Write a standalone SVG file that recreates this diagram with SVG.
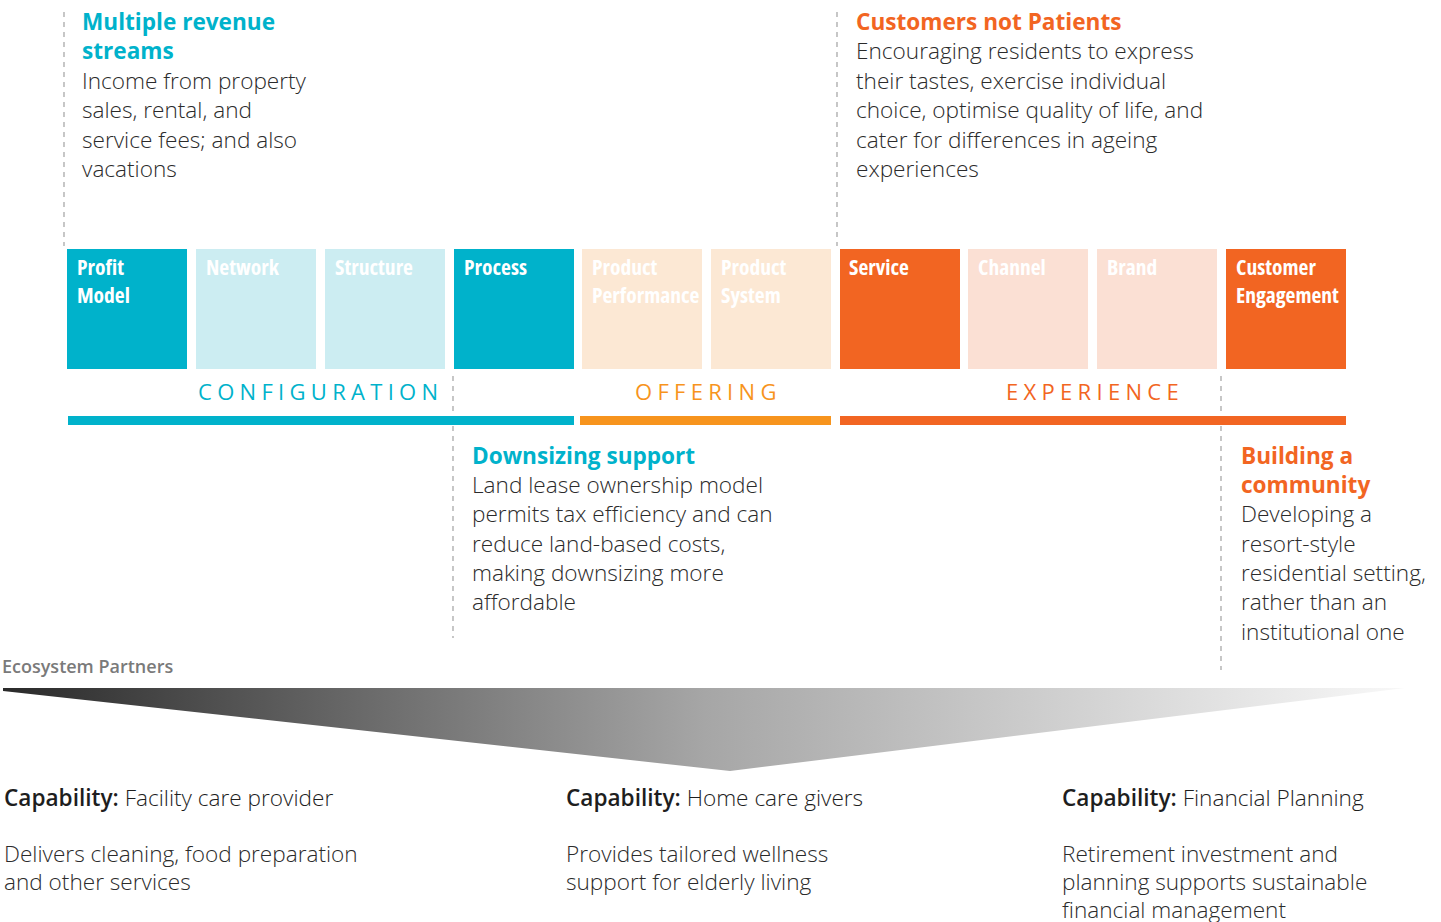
<svg xmlns="http://www.w3.org/2000/svg" width="1441" height="922" viewBox="0 0 1441 922">
<defs>
<linearGradient id="eco" gradientUnits="userSpaceOnUse" x1="3" y1="0" x2="1405" y2="0">
<stop offset="0" stop-color="#2a2a2a"/>
<stop offset="0.5" stop-color="#a6a6a6"/>
<stop offset="1" stop-color="#f8f8f8"/>
</linearGradient>
<style>
text{font-family:"Open Sans","Noto Sans","Liberation Sans",sans-serif;}
.box{font-weight:700;font-size:21.5px;fill:#fff;font-stretch:75%;}
.ttl{font-weight:700;font-size:22.6px;}
.body{font-weight:300;font-size:22.6px;fill:#2b2b2b;}
.cap{font-size:22.6px;fill:#1e1e1e;}
.cap tspan.b{font-weight:600;}
.cap tspan.l{font-weight:300;}
.grp{font-size:22px;letter-spacing:5.3px;}
.dash{stroke:#a9a9a9;stroke-width:1.3;stroke-dasharray:5 5;fill:none;}
.teal{fill:#00b2cb;}
.orange{fill:#f26522;}
</style>
</defs>
<rect width="1441" height="922" fill="#fff"/>

<g id="connectors">
<line class="dash" x1="64" y1="12" x2="64" y2="246"/>
<line class="dash" x1="837" y1="12" x2="837" y2="246"/>
<line class="dash" x1="453" y1="376" x2="453" y2="638"/>
<line class="dash" x1="1221" y1="376" x2="1221" y2="670"/>
</g>

<g id="node-profit-model"><rect x="67" y="249" width="120" height="120" fill="#00b2cb"/><text class="box" x="77" y="275">Profit</text><text class="box" x="77" y="303">Model</text></g>
<g id="node-network"><rect x="196" y="249" width="120" height="120" fill="#ccedf2"/><text class="box" x="206" y="275">Network</text></g>
<g id="node-structure"><rect x="325" y="249" width="120" height="120" fill="#ccedf2"/><text class="box" x="335" y="275">Structure</text></g>
<g id="node-process"><rect x="454" y="249" width="120" height="120" fill="#00b2cb"/><text class="box" x="464" y="275">Process</text></g>
<g id="node-product-performance"><rect x="582" y="249" width="120" height="120" fill="#fce8d4"/><text class="box" x="592" y="275">Product</text><text class="box" x="592" y="303">Performance</text></g>
<g id="node-product-system"><rect x="711" y="249" width="120" height="120" fill="#fce8d4"/><text class="box" x="721" y="275">Product</text><text class="box" x="721" y="303">System</text></g>
<g id="node-service"><rect x="840" y="249" width="120" height="120" fill="#f26522"/><text class="box" x="849" y="275">Service</text></g>
<g id="node-channel"><rect x="968" y="249" width="120" height="120" fill="#fbe0d4"/><text class="box" x="978" y="275">Channel</text></g>
<g id="node-brand"><rect x="1097" y="249" width="120" height="120" fill="#fbe0d4"/><text class="box" x="1107" y="275">Brand</text></g>
<g id="node-customer-engagement"><rect x="1226" y="249" width="120" height="120" fill="#f26522"/><text class="box" x="1236" y="275">Customer</text><text class="box" x="1236" y="303">Engagement</text></g>

<g id="group-configuration"><text class="grp" x="198" y="400" fill="#00b2cb">CONFIGURATION</text><rect x="68" y="416" width="506" height="9" fill="#00b2cb"/></g>
<g id="group-offering"><text class="grp" x="635" y="400" fill="#f7941d">OFFERING</text><rect x="580" y="416" width="251" height="9" fill="#f7941d"/></g>
<g id="group-experience"><text class="grp" x="1006" y="400" fill="#f26522">EXPERIENCE</text><rect x="840" y="416" width="506" height="9" fill="#f26522"/></g>

<g id="note-multiple-revenue">
<text class="ttl teal" x="82" y="30">Multiple revenue</text>
<text class="ttl teal" x="82" y="59">streams</text>
<text class="body" x="82" y="89">Income from property</text>
<text class="body" x="82" y="118">sales, rental, and</text>
<text class="body" x="82" y="147.5">service fees; and also</text>
<text class="body" x="82" y="177">vacations</text>
</g>
<g id="note-customers">
<text class="ttl orange" x="856" y="30">Customers not Patients</text>
<text class="body" x="856" y="59">Encouraging residents to express</text>
<text class="body" x="856" y="89">their tastes, exercise individual</text>
<text class="body" x="856" y="118">choice, optimise quality of life, and</text>
<text class="body" x="856" y="147.5">cater for differences in ageing</text>
<text class="body" x="856" y="177">experiences</text>
</g>
<g id="note-downsizing">
<text class="ttl teal" x="472" y="464">Downsizing support</text>
<text class="body" x="472" y="493">Land lease ownership model</text>
<text class="body" x="472" y="522">permits tax efficiency and can</text>
<text class="body" x="472" y="552">reduce land-based costs,</text>
<text class="body" x="472" y="581">making downsizing more</text>
<text class="body" x="472" y="610">affordable</text>
</g>
<g id="note-community">
<text class="ttl orange" x="1241" y="464">Building a</text>
<text class="ttl orange" x="1241" y="493">community</text>
<text class="body" x="1241" y="522">Developing a</text>
<text class="body" x="1241" y="552">resort-style</text>
<text class="body" x="1241" y="581">residential setting,</text>
<text class="body" x="1241" y="610">rather than an</text>
<text class="body" x="1241" y="640">institutional one</text>
</g>

<g id="ecosystem">
<text x="2" y="673" font-size="18" font-weight="600" fill="#7a7a7a">Ecosystem Partners</text>
<polygon points="3,688 1405,688 730,771 3,691" fill="url(#eco)"/>
</g>

<g id="partner-facility">
<text class="cap" x="4" y="806"><tspan class="b">Capability:</tspan><tspan class="l"> Facility care provider</tspan></text>
<text class="body" x="4" y="862">Delivers cleaning, food preparation</text>
<text class="body" x="4" y="890">and other services</text>
</g>
<g id="partner-home">
<text class="cap" x="566" y="806"><tspan class="b">Capability:</tspan><tspan class="l"> Home care givers</tspan></text>
<text class="body" x="566" y="862">Provides tailored wellness</text>
<text class="body" x="566" y="890">support for elderly living</text>
</g>
<g id="partner-financial">
<text class="cap" x="1062" y="806"><tspan class="b">Capability:</tspan><tspan class="l"> Financial Planning</tspan></text>
<text class="body" x="1062" y="862">Retirement investment and</text>
<text class="body" x="1062" y="890">planning supports sustainable</text>
<text class="body" x="1062" y="918">financial management</text>
</g>
</svg>
